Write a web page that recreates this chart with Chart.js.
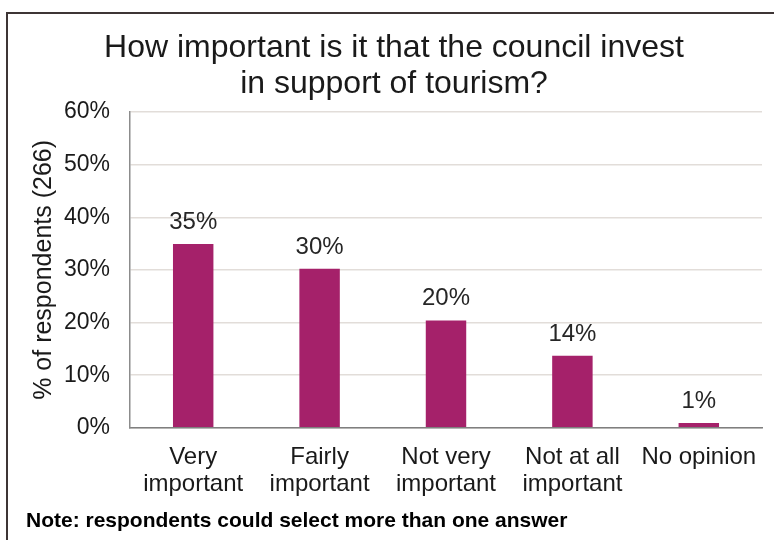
<!DOCTYPE html>
<html>
<head>
<meta charset="utf-8">
<script src="https://cdn.jsdelivr.net/npm/chart.js@4.4.1/dist/chart.umd.min.js"></script>
<style>
  html, body { margin: 0; padding: 0; background: #fff; }
  #wrap { position: relative; width: 774px; height: 540px; }
  #frame {
    position: absolute; left: 6px; top: 12px; right: 0; bottom: 0;
    border-left: 2px solid #3d3535; border-top: 2px solid #3d3535;
  }
  canvas { position: absolute; left: 0; top: 0; }
</style>
</head>
<body>
<div id="wrap">
  <div id="frame"></div>
  <canvas id="tourismChart" width="774" height="540"></canvas>
</div>
<script>
// Kategori jawaban dan persentase responden
const categories = [
  ['Very', 'important'],
  ['Fairly', 'important'],
  ['Not very', 'important'],
  ['Not at all', 'important'],
  'No opinion'
];
const percentValues = [34.9, 30.2, 20.4, 13.7, 0.9];
const yTicks = [0, 10, 20, 30, 40, 50, 60];

const FONT = "'Liberation Sans', Arial, sans-serif";

// Label persen di atas tiap batang
const barLabels = {
  id: 'barLabels',
  afterDatasetsDraw(chart) {
    const ctx = chart.ctx;
    const meta = chart.getDatasetMeta(0);
    ctx.save();
    ctx.font = '24px ' + FONT;
    ctx.fillStyle = '#262626';
    ctx.textAlign = 'center';
    ctx.textBaseline = 'alphabetic';
    meta.data.forEach((bar, i) => {
      ctx.fillText(Math.round(percentValues[i]) + '%', bar.x, bar.y - 15);
    });
    ctx.restore();
  }
};

const ctx = document.getElementById('tourismChart').getContext('2d');
new Chart(ctx, {
  type: 'bar',
  data: {
    labels: categories,
    datasets: [{
      data: percentValues,
      backgroundColor: '#a5216a',
      borderWidth: 0,
      barPercentage: 0.32,
      categoryPercentage: 1
    }]
  },
  options: {
    responsive: false,
    animation: false,
    layout: { padding: { left: 26, right: 12, top: 0, bottom: 3 } },
    plugins: {
      legend: { display: false },
      tooltip: { enabled: false },
      title: {
        display: true,
        text: ['How important is it that the council invest', 'in support of tourism?'],
        color: '#1a1a1a',
        font: { family: FONT, size: 32, weight: 'normal', lineHeight: 1.125 },
        padding: { top: 30, bottom: 10 }
      },
      subtitle: {
        display: true,
        position: 'bottom',
        align: 'start',
        text: 'Note: respondents could select more than one answer',
        color: '#000',
        font: { family: FONT, size: 21, weight: 'bold' },
        padding: { top: 3, bottom: 3 }
      }
    },
    scales: {
      x: {
        grid: { display: false },
        border: { display: true, color: '#7f7f7f', width: 1.5 },
        ticks: {
          color: '#1a1a1a',
          font: { family: FONT, size: 24, lineHeight: 1.125 },
          padding: 8,
          maxRotation: 0,
          autoSkip: false
        }
      },
      y: {
        min: 0,
        max: 60,
        afterBuildTicks(axis) {
          axis.ticks = yTicks.map(v => ({ value: v }));
        },
        afterFit(axis) {
          axis.width = 104;
        },
        grid: { color: '#e2ddd9', lineWidth: 1.5, drawTicks: false },
        border: { display: true, color: '#8c8c8c', width: 1.5 },
        ticks: {
          color: '#1a1a1a',
          font: { family: FONT, size: 23 },
          padding: 20,
          callback: v => v + '%'
        },
        title: {
          display: true,
          text: '% of respondents (266)',
          color: '#1a1a1a',
          font: { family: FONT, size: 25 },
          padding: { top: 3, bottom: 0 }
        }
      }
    }
  },
  plugins: [barLabels]
});
</script>
</body>
</html>
